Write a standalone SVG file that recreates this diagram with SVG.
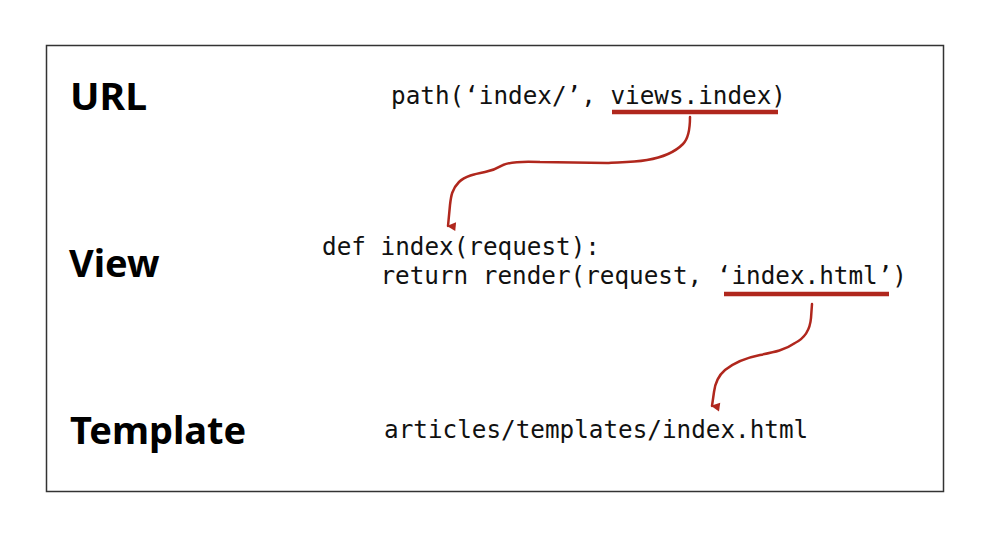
<svg xmlns="http://www.w3.org/2000/svg" width="994" height="534" viewBox="0 0 994 534">
<style>
.lbl{font-family:"Noto Sans","Open Sans","Liberation Sans",sans-serif;font-weight:700;font-size:38px;fill:#000}
.code{font-family:"DejaVu Sans Mono","Liberation Mono",monospace;font-size:24.3px;fill:#111}
.ul{stroke:#b0271d;stroke-width:4.5;fill:none}
.conn{stroke:#b0271d;stroke-width:2.5;fill:none;stroke-linecap:round}
</style>
<defs>
<marker id="ah" viewBox="0 0 10 10" refX="5" refY="8" markerWidth="11" markerHeight="11" markerUnits="userSpaceOnUse" orient="auto">
<path d="M1,1 L5,9 L9,1 Z" fill="#b0271d"/>
</marker>
</defs>
<rect width="994" height="534" fill="#fff"/>
<rect x="46.5" y="45.5" width="897" height="446" fill="none" stroke="#333" stroke-width="1.5"/>
<g id="url">
<text class="lbl" x="70" y="110" textLength="77" lengthAdjust="spacingAndGlyphs">URL</text>
<text class="code" x="391" y="104">path(‘index/’, views.index)</text>
<line class="ul" x1="612" y1="112" x2="778" y2="112"/>
</g>
<g id="view">
<text class="lbl" x="69" y="277">View</text>
<text class="code" x="322" y="255" xml:space="preserve">def index(request):</text>
<text class="code" x="380.4" y="284">return render(request, ‘index.html’)</text>
<line class="ul" x1="724" y1="294" x2="889" y2="294"/>
</g>
<g id="template">
<text class="lbl" x="70" y="444">Template</text>
<text class="code" x="384" y="438">articles/templates/index.html</text>
</g>
<g id="connectors">
<path class="conn" marker-end="url(#ah)" d="M690,117 C690,128 689,138 683,144 C676,151 665,157 647,160 C630,163 615,162 607,163 L540,162 C520,161 510,162 503,165 C498,168 495,170 485,172 C475,174 465,176 459,182 C452,189 451,196 450,205 L448,226"/>
<path class="conn" marker-end="url(#ah)" d="M812,304 L811,318 C810,330 805,338 795,343 C785,350 775,352 760,355 C745,358 735,362 725,370 C718,376 715,384 714,392 L712,406"/>
</g>
</svg>
